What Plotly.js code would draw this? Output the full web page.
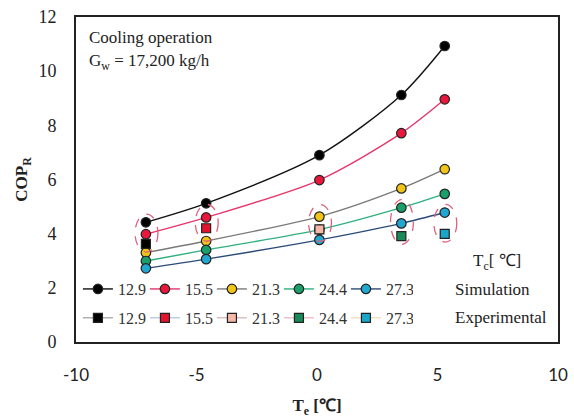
<!DOCTYPE html>
<html>
<head>
<meta charset="utf-8">
<script src="https://cdn.plot.ly/plotly-3.0.1.min.js"></script>
<style>html,body{margin:0;padding:0;background:#fff;}#chart{width:574px;height:418px;}</style>
</head>
<body>
<div id="chart"></div>
<script>
// Evaporating temperature Te [°C]
const te = [-7.1, -4.6, 0.1, 3.5, 5.3];
// Condensing temperature labels Tc [°C]
const tcLabels = ["12.9", "15.5", "21.3", "24.4", "27.3"];
// Simulation COP_R
const sim129 = [4.42, 5.12, 6.90, 9.12, 10.93];
const sim155 = [3.98, 4.60, 5.98, 7.71, 8.96];
const sim213 = [3.30, 3.73, 4.63, 5.67, 6.38];
const sim244 = [2.99, 3.40, 4.15, 4.96, 5.47];
const sim273 = [2.72, 3.06, 3.77, 4.38, 4.78];
// Experimental COP_R (one measured point per Tc)
const expTe = [-7.1, -4.6, 0.1, 3.5, 5.3];
const expCop = [3.62, 4.20, 4.16, 3.91, 3.99];

const simSeries = [sim129, sim155, sim213, sim244, sim273];
const lineColors = ["#111111", "#e8356a", "#7a7a7a", "#2fb07e", "#2c4a78"];
const markerColors = ["#000000", "#e8173c", "#f0c419", "#1a9e6a", "#22a8d0"];
const expColors = ["#000000", "#e0142e", "#f5b8a8", "#178a58", "#1aa6c8"];
const expLegendLine = ["#888888", "#9ab8d8", "#c8a0a0", "#e8a0b0", "#f0d0a0"];

const serif = "Liberation Serif, Times New Roman, serif";
const traces = [];
simSeries.forEach((s, i) => {
  traces.push({
    x: te, y: s, type: "scatter", mode: "lines+markers",
    name: tcLabels[i], legend: "legend",
    line: {color: lineColors[i], width: 1.4, shape: "spline", smoothing: 0.8},
    marker: {symbol: "circle", size: 9.5, color: markerColors[i], line: {color: "#222", width: 1.2}}
  });
});
expCop.forEach((v, i) => {
  traces.push({
    x: [expTe[i]], y: [v], type: "scatter", mode: "lines+markers",
    name: tcLabels[i], legend: "legend2",
    line: {color: expLegendLine[i], width: 1},
    marker: {symbol: "square", size: 9, color: expColors[i], line: {color: "#222", width: 1.2}}
  });
});

// dashed ellipses around each experimental point and its simulated counterpart
const shapes = expCop.map((v, i) => {
  const idx = te.indexOf(expTe[i]);
  const vals = [v, simSeries[i][idx]];
  if (i === 0) vals.push(sim155[idx]);
  const lo = Math.min(...vals), hi = Math.max(...vals);
  const c = (lo + hi) / 2;
  const h = Math.max((hi - lo) / 2 + 0.3, 0.68);
  return {type: "circle", xref: "x", yref: "y",
    x0: expTe[i] - 0.45, x1: expTe[i] + 0.5, y0: c - h, y1: c + h,
    line: {color: "#e0607e", width: 1.3, dash: "dash"}};
});

const legendBase = {orientation: "h", xanchor: "left", yanchor: "middle",
  entrywidth: 22, entrywidthmode: "pixels", bgcolor: "rgba(0,0,0,0)",
  font: {family: serif, size: 16, color: "#333"}, tracegroupgap: 0, itemwidth: 30};

const layout = {
  width: 574, height: 418,
  margin: {l: 76, r: 16, t: 17, b: 76},
  paper_bgcolor: "#fff", plot_bgcolor: "#fff",
  font: {family: serif, color: "#222"},
  xaxis: {
    range: [-10, 10], tickvals: [-10, -5, 0, 5, 10], ticktext: ["-10", "-5", "0", "5", "10"],
    showgrid: false, zeroline: false, showline: true, mirror: true,
    linecolor: "#222", linewidth: 2, ticks: "", ticklabelstandoff: 17,
    tickfont: {family: "Lato, Liberation Sans, sans-serif", size: 17, color: "#222"},
    title: {text: "<b>T<sub>e</sub> [℃]</b>", font: {family: serif, size: 17, color: "#222"}, standoff: 16}
  },
  yaxis: {
    range: [0, 12], tickvals: [0, 2, 4, 6, 8, 10, 12],
    showgrid: false, zeroline: false, showline: true, mirror: true,
    linecolor: "#222", linewidth: 2, ticks: "", ticklabelstandoff: 14,
    tickfont: {family: serif, size: 18, color: "#222"},
    title: {text: "<b>COP<sub>R</sub></b>", font: {family: serif, size: 17, color: "#222"}, standoff: 6}
  },
  legend: Object.assign({}, legendBase, {x: 0.004, y: 0.163}),
  legend2: Object.assign({}, legendBase, {x: 0.004, y: 0.074}),
  shapes: shapes,
  annotations: [
    {xref: "paper", yref: "paper", x: 0.022, y: 0.938, xanchor: "left", yanchor: "middle", showarrow: false,
     text: "Cooling operation", font: {family: serif, size: 17, color: "#222"}},
    {xref: "paper", yref: "paper", x: 0.022, y: 0.862, xanchor: "left", yanchor: "middle", showarrow: false,
     text: "G<sub>w</sub> = 17,200 kg/h", font: {family: serif, size: 17, color: "#222"}},
    {xref: "paper", yref: "paper", x: 0.874, y: 0.246, xanchor: "center", yanchor: "middle", showarrow: false,
     text: "T<sub>c</sub>[ ℃]", font: {family: serif, size: 17, color: "#222"}},
    {xref: "paper", yref: "paper", x: 0.782, y: 0.163, xanchor: "left", yanchor: "middle", showarrow: false,
     text: "Simulation", font: {family: serif, size: 17, color: "#222"}},
    {xref: "paper", yref: "paper", x: 0.782, y: 0.074, xanchor: "left", yanchor: "middle", showarrow: false,
     text: "Experimental", font: {family: serif, size: 17, color: "#222"}}
  ]
};

Plotly.newPlot("chart", traces, layout, {displayModeBar: false, staticPlot: true});
</script>
</body>
</html>
